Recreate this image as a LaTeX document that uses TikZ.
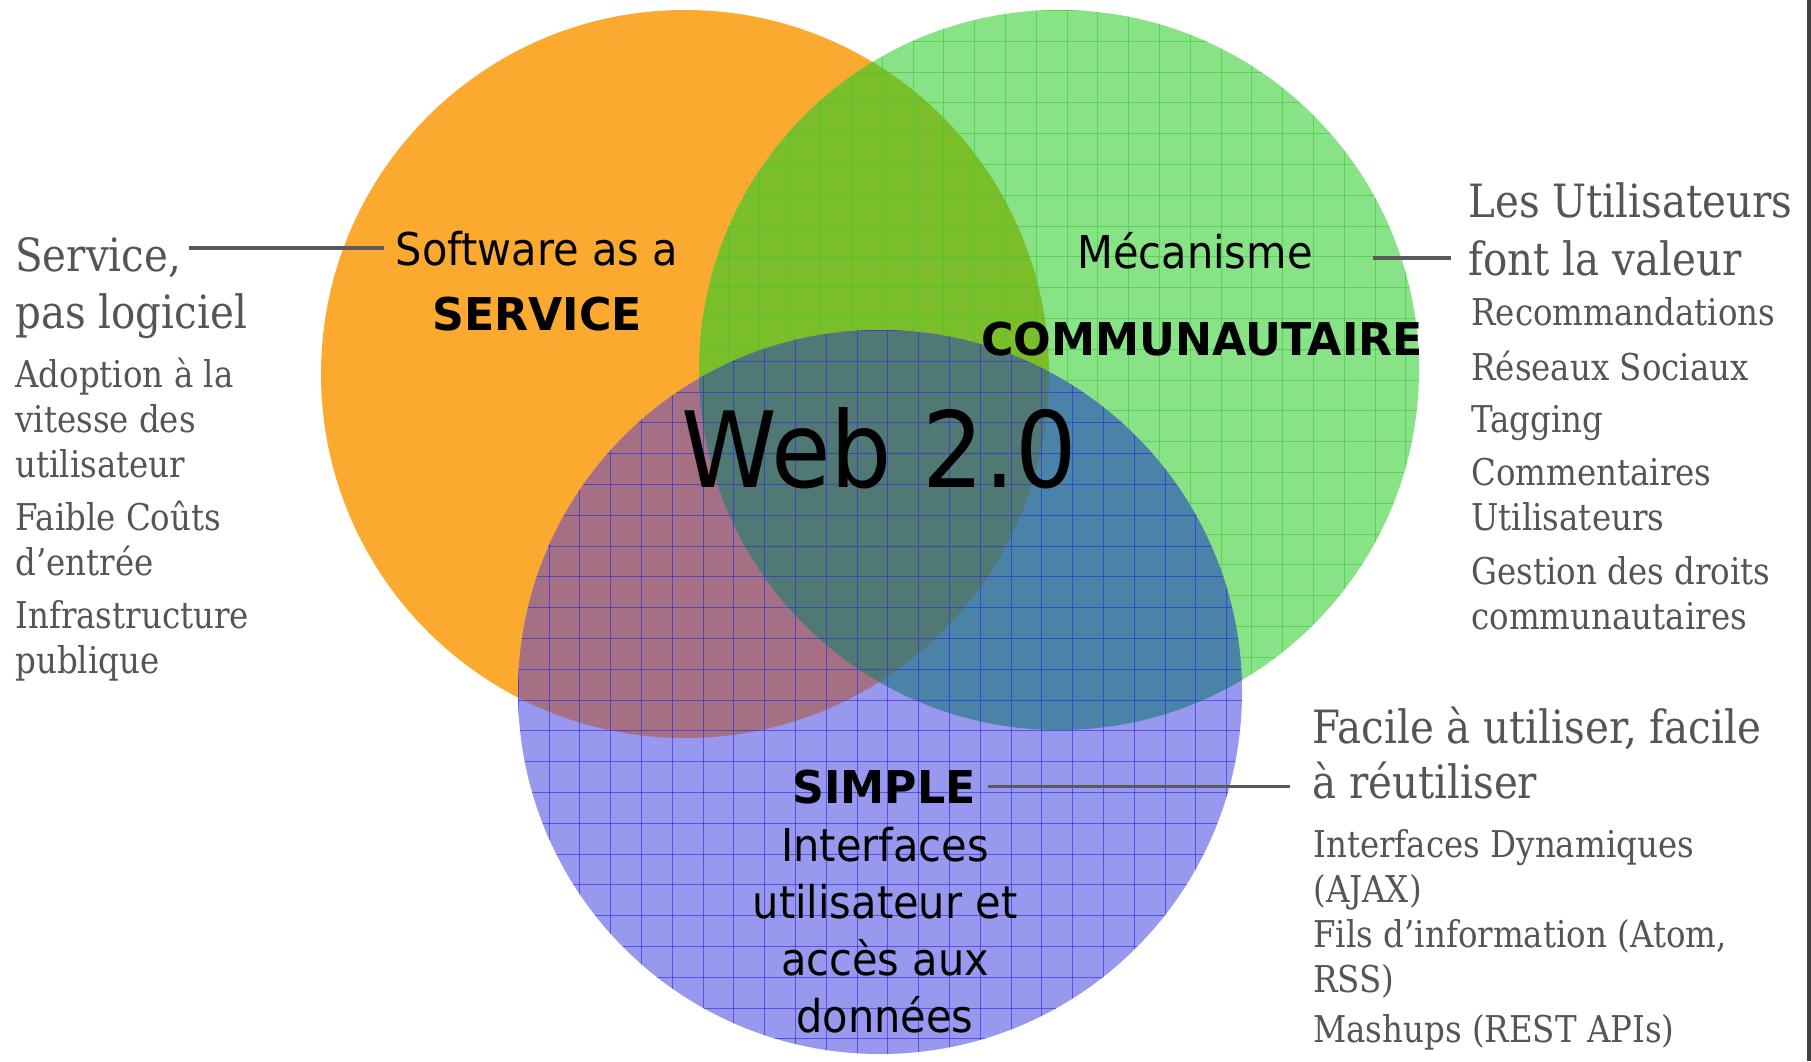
\documentclass[tikz,border=0pt]{standalone}
\usepackage{fontspec}
\usepackage{tikz}
\usetikzlibrary{positioning, calc}

\newfontfamily\tahoma[FakeStretch=0.92, BoldFeatures={FakeStretch=0.98}]{DejaVu Sans}
\newfontfamily\georgia[FakeStretch=0.88]{DejaVu Serif}

\definecolor{saasorange}{RGB}{252,169,48}
\definecolor{commgreen}{RGB}{136,226,134}
\definecolor{oggreen}{RGB}{122,190,42}
\definecolor{simpleblue}{RGB}{152,152,238}
\definecolor{osmauve}{RGB}{166,112,132}
\definecolor{gsteel}{RGB}{74,130,168}
\definecolor{ogbteal}{RGB}{80,120,116}
\definecolor{gridgreen}{RGB}{60,200,60}
\definecolor{gridblue}{RGB}{40,40,225}
\definecolor{sidegray}{RGB}{85,85,85}
\definecolor{linkgray}{RGB}{90,90,90}

\begin{document}
\begin{tikzpicture}[
    x=0.02cm, y=-0.02cm, % pixel grid, y going down
    % Styles
    side/.style={ % big serif heading beside a circle
        font=\georgia\fontsize{26.1}{31.7}\selectfont,
        text=sidegray,
        anchor=base west,
        inner sep=0pt
    },
    item/.style={ % small serif list entry (base = last line)
        font=\georgia\fontsize{21}{25.5}\selectfont,
        text=sidegray,
        anchor=base west,
        align=left,
        inner sep=0pt
    },
    inlabel/.style={ % text inside a circle
        font=\tahoma\fontsize{25.7}{32.3}\selectfont,
        anchor=base,
        align=center,
        inner sep=0pt
    },
    inbold/.style={ % bold keyword inside a circle
        inlabel,
        font=\tahoma\fontsize{25.7}{32.3}\selectfont\bfseries
    },
    weblabel/.style={ % centre title
        font=\tahoma\fontsize{59.9}{70}\selectfont,
        anchor=base,
        inner sep=0pt
    },
    link/.style={ % connector from a circle to its list
        draw=linkgray,
        line width=1.9pt
    },
    gline/.style={ % grid texture
        line width=0.45pt,
        opacity=0.6
    }
]
    \useasboundingbox (0,0) rectangle (1811,1061);

    % Circle centres
    \coordinate (O) at (685,374);
    \coordinate (G) at (1059,370);
    \coordinate (B) at (880,692);

    % Orange circle
    \fill[saasorange] (O) circle (364);

    % Green circle and its overlap with the orange one
    \fill[commgreen] (G) circle (360);
    \begin{scope}
        \clip (O) circle (364);
        \fill[oggreen] (G) circle (360);
    \end{scope}
    \begin{scope}
        \clip (G) circle (360);
        \foreach \i in {0,...,24} {
            \draw[gline, gridgreen] (697.4+30.8*\i, 0) -- ++(0,760);
            \draw[gline, gridgreen] (680, 10.4+30.8*\i) -- ++(780,0);
        }
    \end{scope}

    % Blue circle and its overlaps
    \fill[simpleblue] (B) circle (362);
    \begin{scope}
        \clip (B) circle (362);
        \fill[osmauve] (O) circle (364);
        \fill[gsteel] (G) circle (360);
        \clip (O) circle (364);
        \fill[ogbteal] (G) circle (360);
    \end{scope}
    \begin{scope}
        \clip (B) circle (362);
        \foreach \i in {0,...,24} {
            \draw[gline, gridblue] (518.2+30.8*\i, 320) -- ++(0,750);
            \draw[gline, gridblue] (500, 330.4+30.8*\i) -- ++(760,0);
        }
    \end{scope}

    % Text inside the circles
    \node[inlabel] (saas) at (537,265) {Software as a};
    \node[inbold] (service) at (537,330) {SERVICE};
    \node[inlabel] (meca) at (1195,268) {Mécanisme};
    \node[inbold] (comm) at (1202,355) {COMMUNAUTAIRE};
    \node[weblabel] (web) at (879,487) {Web 2.0};
    \node[inbold] (simple) at (884,803) {SIMPLE};
    \node[inlabel] (intf) at (885,1032) {Interfaces\\utilisateur et\\accès aux\\données};

    % Left column
    \node[side] (svc1) at (15,271) {Service,};
    \node[side] (svc2) at (15,328) {pas logiciel};
    \node[item] (adopt) at (15,477) {Adoption à la\\vitesse des\\utilisateur};
    \node[item] (cost) at (15,575) {Faible Coûts\\d’entrée};
    \node[item] (infra) at (15,673) {Infrastructure\\publique};

    % Right column
    \node[side] (usr1) at (1468,217) {Les Utilisateurs};
    \node[side] (usr2) at (1468,275) {font la valeur};
    \node[item] (reco) at (1471,325) {Recommandations};
    \node[item] (soc) at (1471,380) {Réseaux Sociaux};
    \node[item] (tag) at (1471,432) {Tagging};
    \node[item] (comment) at (1471,530) {Commentaires\\Utilisateurs};
    \node[item] (rights) at (1471,629) {Gestion des droits\\communautaires};

    % Bottom right column
    \node[side] (fac1) at (1312,743) {Facile à utiliser, facile};
    \node[side] (fac2) at (1312,798) {à réutiliser};
    \node[item] (ajax) at (1313,902) {Interfaces Dynamiques\\(AJAX)};
    \node[item] (feeds) at (1313,992) {Fils d’information (Atom,\\RSS)};
    \node[item] (mash) at (1313,1042) {Mashups (REST APIs)};

    % Connectors
    \draw[link, shorten <=4pt, shorten >=6.8pt] (svc1.east |- saas.west) -- (saas.west);
    \draw[link, shorten <=34pt, shorten >=9.6pt] (meca.east |- usr2.west) -- (usr2.west);
    \draw[link, shorten <=6.8pt, shorten >=12.5pt] (simple.east) -- (simple.east -| fac2.west);

    % Right border
    \fill[black!75] (1807,0) rectangle (1811,1061);
\end{tikzpicture}
\end{document}
